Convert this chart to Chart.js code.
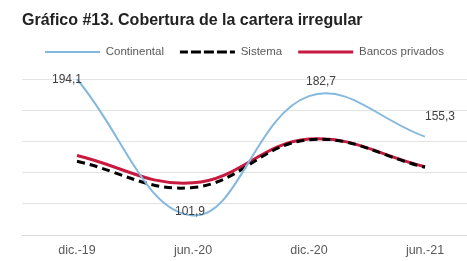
<!DOCTYPE html>
<html>
<head>
<meta charset="utf-8">
<script src="https://cdn.jsdelivr.net/npm/chart.js@4"></script>
<style>
  html, body { margin: 0; padding: 0; background: #fff; }
  #wrap { width: 467px; height: 261px; }
</style>
</head>
<body>
<div id="wrap"><canvas id="chart" width="467" height="261"></canvas></div>
<script>
const periods = ['dic.-19', 'jun.-20', 'dic.-20', 'jun.-21'];
const continental = [194.1, 101.9, 182.7, 155.3];
const sistema = [138.6, 120.8, 153.2, 134.6];
const bancosPrivados = [142.5, 124.0, 153.6, 134.9];
const continentalLabels = ['194,1', '101,9', '182,7', '155,3'];

// y axis: 6 gridlines, no tick labels
const yMin = 88.7;
const yMax = 193.8;

const FONT = '"Liberation Sans", Arial, sans-serif';

function toPoints(values) {
    return values.map((v, i) => ({ x: i, y: v }));
}

// where each data label sits relative to its point
const labelOffsets = [
    { dx: -10, dy: 0 },
    { dx: -3, dy: -4 },
    { dx: 12, dy: -14 },
    { dx: 15, dy: -20 }
];

const dataLabels = {
    id: 'dataLabels',
    afterDatasetsDraw(chart) {
        const ctx = chart.ctx;
        const meta = chart.getDatasetMeta(0);
        ctx.save();
        ctx.font = '12px ' + FONT;
        ctx.fillStyle = '#404040';
        ctx.textBaseline = 'middle';
        ctx.textAlign = 'center';
        meta.data.forEach((pt, i) => {
            const o = labelOffsets[i];
            ctx.fillText(continentalLabels[i], pt.x + o.dx, pt.y + o.dy);
        });
        ctx.restore();
    }
};

// a bit more room between legend and plot
const legendGap = {
    id: 'legendGap',
    beforeInit(chart) {
        const fit = chart.legend.fit;
        chart.legend.fit = function () {
            fit.call(this);
            this.height += 12;
        };
    }
};

new Chart(document.getElementById('chart'), {
    type: 'line',
    data: {
        datasets: [
            {
                label: 'Continental',
                data: toPoints(continental),
                borderColor: '#85b8de',
                backgroundColor: '#85b8de',
                borderWidth: 2,
                tension: 0.4,
                pointRadius: 0
            },
            {
                label: 'Sistema',
                data: toPoints(sistema),
                borderColor: '#000000',
                backgroundColor: '#000000',
                borderWidth: 3,
                borderDash: [8, 5],
                tension: 0.4,
                pointRadius: 0
            },
            {
                label: 'Bancos privados',
                data: toPoints(bancosPrivados),
                borderColor: '#c8193f',
                backgroundColor: '#c8193f',
                borderWidth: 3,
                tension: 0.4,
                pointRadius: 0
            }
        ]
    },
    options: {
        responsive: false,
        animation: false,
        clip: false,
        layout: { padding: { left: 22, right: 0, top: 6, bottom: 2 } },
        plugins: {
            title: {
                display: true,
                text: 'Gráfico #13. Cobertura de la cartera irregular',
                align: 'start',
                color: '#222',
                font: { family: FONT, size: 16, weight: 'bold' },
                padding: { top: 5, bottom: 0 }
            },
            legend: {
                display: true,
                labels: {
                    boxWidth: 55,
                    boxHeight: 0,
                    padding: 16,
                    color: '#595959',
                    font: { family: FONT, size: 11.5 }
                }
            },
            tooltip: { enabled: false }
        },
        scales: {
            x: {
                type: 'linear',
                min: -0.474,
                max: 3.362,
                afterBuildTicks(scale) {
                    scale.ticks = periods.map((_, i) => ({ value: i }));
                },
                ticks: {
                    callback: (v) => periods[v],
                    color: '#595959',
                    font: { family: FONT, size: 12.5 },
                    padding: 0.5,
                    maxRotation: 0
                },
                grid: { display: false },
                border: { display: true, color: '#d9d9d9' }
            },
            y: {
                min: yMin,
                max: yMax,
                afterBuildTicks(scale) {
                    const step = (yMax - yMin) / 5;
                    scale.ticks = [0, 1, 2, 3, 4, 5].map(i => ({ value: yMin + i * step }));
                },
                ticks: { display: false },
                grid: { color: '#e3e3e3', drawTicks: false },
                border: { display: false }
            }
        }
    },
    plugins: [dataLabels, legendGap]
});
</script>
</body>
</html>
